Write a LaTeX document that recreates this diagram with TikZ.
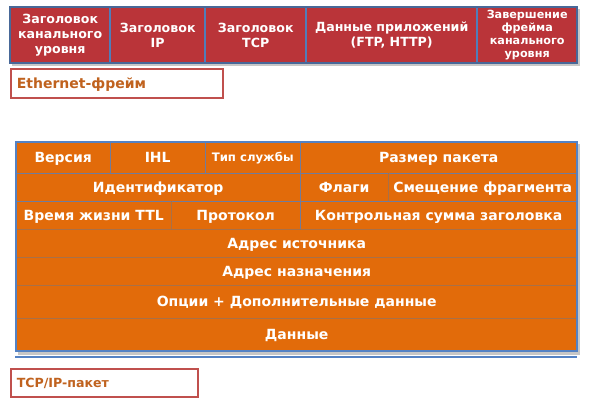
\documentclass[tikz,border=0pt]{standalone}
\usepackage{fontspec}
\setmainfont{DejaVu Sans}
\definecolor{topred}{RGB}{186,52,57}
\definecolor{ipor}{RGB}{226,107,10}
\definecolor{topbd}{RGB}{72,104,152}
\definecolor{topdiv}{RGB}{80,125,185}
\definecolor{ipbd}{RGB}{84,130,196}
\definecolor{hsep}{RGB}{168,112,72}
\definecolor{vsep}{RGB}{112,124,156}
\definecolor{lblbd}{RGB}{192,80,77}
\definecolor{lbltx}{RGB}{192,98,30}
\tikzset{
  redcell/.style={anchor=north west, fill=topred, inner sep=0pt, text=white,
    font=\bfseries\fontsize{12.6}{14.6}\selectfont, align=center},
  orcell/.style={anchor=north west, fill=ipor, inner sep=0pt, text=white,
    font=\bfseries\fontsize{14}{16}\selectfont, text height=10.2pt, text depth=0pt},
  lblbox/.style={anchor=north west, draw=lblbd, line width=1.6pt, fill=white,
    inner sep=0pt, text=lbltx, text height=10pt, text depth=0pt,
    text width=#1, align=left},
  shadowbox/.style={fill=black!22},
  topline/.style={draw=topbd, line width=2pt},
  topdivline/.style={draw=topdiv, line width=2pt},
  hline/.style={draw=hsep, line width=1pt},
  hlineb/.style={draw=vsep, line width=1pt},
  vline/.style={draw=vsep, line width=1pt},
}
\begin{document}
\begin{tikzpicture}[x=1pt,y=-1pt]
\useasboundingbox[fill=white] (0,0) rectangle (590,402);
% ---------- Ethernet frame ----------
\fill[shadowbox] (12,9) rectangle (580,66);
\node[redcell, minimum width=100pt, minimum height=56pt] (e1) at (10,7) {Заголовок\\канального\\уровня};
\node[redcell, minimum width=95pt, minimum height=56pt] (e2) at (110,7) {Заголовок\\IP};
\node[redcell, minimum width=101pt, minimum height=56pt] (e3) at (205,7) {Заголовок\\TCP};
\node[redcell, minimum width=171pt, minimum height=56pt] (e4) at (306,7) {Данные приложений\\(FTP, HTTP)};
\node[redcell, minimum width=100pt, minimum height=56pt, font=\bfseries\fontsize{11.2}{13}\selectfont] (e5) at (477,7) {Завершение\\фрейма\\канального\\уровня};
\foreach \c in {e1,e2,e3,e4} \draw[topdivline] (\c.north east) -- (\c.south east);
\draw[topline] (e1.north west) rectangle (e5.south east);
\node[lblbox=212pt, minimum height=29pt, font=\bfseries\fontsize{14}{16}\selectfont] (eth) at (10,68) {\hspace*{6pt}Ethernet-фрейм};
% ---------- IP packet ----------
\fill[shadowbox] (18,144) rectangle (580,355);
% row 1
\node[orcell, minimum width=94pt, minimum height=31pt] (r1a) at (16,142) {Версия};
\node[orcell, minimum width=95pt, minimum height=31pt] (r1b) at (110,142) {IHL};
\node[orcell, minimum width=95pt, minimum height=31pt, font=\bfseries\fontsize{11.7}{13}\selectfont, text height=8.5pt] (r1c) at (205,142) {Тип службы};
\node[orcell, minimum width=277pt, minimum height=31pt] (r1d) at (300,142) {Размер пакета};
% row 2
\node[orcell, minimum width=284pt, minimum height=28pt] (r2a) at (16,173) {Идентификатор};
\node[orcell, minimum width=88pt, minimum height=28pt] (r2b) at (300,173) {Флаги};
\node[orcell, minimum width=189pt, minimum height=28pt] (r2c) at (388,173) {Смещение фрагмента};
% row 3
\node[orcell, minimum width=155pt, minimum height=28pt] (r3a) at (16,201) {Время жизни TTL};
\node[orcell, minimum width=129pt, minimum height=28pt] (r3b) at (171,201) {Протокол};
\node[orcell, minimum width=277pt, minimum height=28pt] (r3c) at (300,201) {Контрольная сумма заголовка};
% rows 4-7
\node[orcell, minimum width=561pt, minimum height=28pt] (r4) at (16,229) {Адрес источника};
\node[orcell, minimum width=561pt, minimum height=28pt] (r5) at (16,257) {Адрес назначения};
\node[orcell, minimum width=561pt, minimum height=33pt] (r6) at (16,285) {Опции + Дополнительные данные};
\node[orcell, minimum width=561pt, minimum height=33pt] (r7) at (16,318) {Данные};
% separators
\foreach \c in {r1a,r2a} \draw[hlineb] (\c.south west) -- (\c.south west -| r7.east);
\foreach \c in {r3a,r4,r5,r6} \draw[hline] (\c.south west) -- (\c.south west -| r7.east);
\foreach \c in {r1a,r1b,r1c,r2a,r3b} \draw[vline] (\c.north east) -- (\c.south east);
\foreach \c in {r2b,r3a} \draw[hline] (\c.north east) -- (\c.south east);
\draw[draw=ipbd, line width=2pt] (r1a.north west) rectangle (r7.south east);
\coordinate (bl1) at (15,357);
\coordinate (bl2) at (577,357);
\draw[draw=ipbd, line width=2.5pt] (bl1) -- (bl2);
\node[lblbox=187pt, minimum height=28pt, font=\bfseries\fontsize{12.6}{15}\selectfont] (tcp) at (10,368) {\hspace*{6pt}TCP/IP-пакет};
\end{tikzpicture}
\end{document}
